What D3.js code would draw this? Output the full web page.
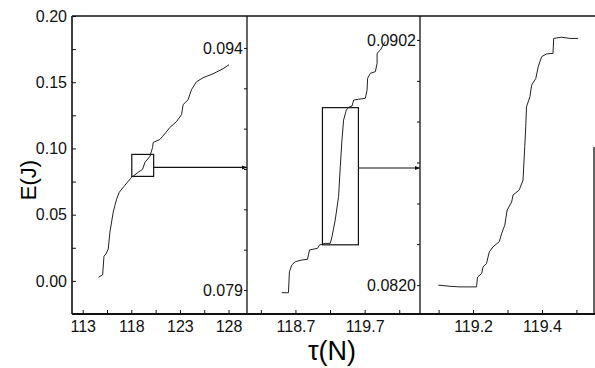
<!doctype html>
<head>
  <script src="https://cdnjs.cloudflare.com/ajax/libs/d3/7.8.5/d3.min.js"></script>
  <style>
    body { margin: 0; background: #fff; }
    svg { display: block; font-family: "Liberation Sans", Arial, sans-serif; }
    .tick text { font-size: 16px; fill: #111; }
    .tick line { stroke: #111; }
  </style>
</head>
<body>
  <svg width="595" height="368"></svg>
  <script type="text/javascript">
    // left panel: full run
    var leftTau = [114.64,115.05,115.19,115.39,115.63,115.80,116.14,116.32,116.49,116.76,117.34,118.03,118.71,119.16,119.40,119.91,120.19,120.25,120.94,121.55,121.96,122.65,123.17,123.33,123.84,124.19,124.71,125.38,126.41,127.44,128.05]
    var leftE = [0.0028,0.0045,0.0188,0.0203,0.0241,0.0368,0.0519,0.0571,0.0617,0.0669,0.0722,0.0782,0.0820,0.0842,0.0895,0.0940,0.1008,0.1045,0.1068,0.1120,0.1158,0.1203,0.1256,0.1331,0.1368,0.1444,0.1504,0.1534,0.1564,0.1602,0.1632]

    // middle panel: zoom of the small box
    var midTau = [118.503,118.599,118.613,118.648,118.696,118.793,118.874,118.888,118.903,119.019,119.048,119.130,119.203,119.228,119.275,119.323,119.348,119.372,119.396,119.435,119.468,119.517,119.541,119.613,119.710,119.735,119.743,119.783,119.855,119.880,119.880,119.928,119.967,120.0]
    var midE = [0.07883,0.07883,0.08013,0.08055,0.08075,0.08086,0.08090,0.08117,0.08148,0.08158,0.08179,0.08189,0.08189,0.08230,0.08334,0.08478,0.08664,0.08829,0.08953,0.09015,0.09032,0.09040,0.09077,0.09082,0.09088,0.09139,0.09212,0.09243,0.09253,0.09305,0.09367,0.09387,0.09418,0.09439]

    // right panel: zoom of the tall box
    var rightTau = [119.099,119.133,119.162,119.210,119.213,119.225,119.229,119.239,119.247,119.258,119.276,119.283,119.292,119.299,119.312,119.316,119.334,119.345,119.350,119.353,119.355,119.365,119.370,119.382,119.389,119.399,119.413,119.432,119.434,119.457,119.481,119.505]
    var rightE = [0.08200,0.08196,0.08194,0.08194,0.08227,0.08239,0.08261,0.08272,0.08311,0.08328,0.08345,0.08373,0.08400,0.08451,0.08478,0.08501,0.08518,0.08551,0.08663,0.08730,0.08796,0.08830,0.08869,0.08891,0.08930,0.08964,0.08973,0.08975,0.09025,0.09029,0.09025,0.09025]

    // ticks
    var leftYTicks = [0,0.025,0.05,0.075,0.10,0.125,0.15,0.175,0.20]
    var leftYLabels = [0,0.05,0.10,0.15,0.20]
    var leftXTicks = [113,115.5,118,120.5,123,125.5,128]
    var leftXLabels = [113,118,123,128]
    var midYTicks = [0.079,0.0815,0.084,0.0865,0.089,0.0915,0.094]
    var midYLabels = [0.079,0.094]
    var midXTicks = [118.2,118.7,119.2,119.7,120.2]
    var midXLabels = [118.7,119.7]
    var rightYTicks = [0.0820,0.08337,0.08473,0.0861,0.08747,0.08883,0.0902]
    var rightYLabels = [0.0820,0.0902]
    var rightXTicks = [119.1,119.2,119.3,119.4,119.5]
    var rightXLabels = [119.2,119.4]

    // zoom boxes [tau0, tau1, E0, E1] and the E level of each arrow
    var leftBox = [118.05,120.3,0.0789,0.0955]
    var midBox = [119.09,119.61,0.0818,0.0903]
    var arrowE = [0.0857,0.08656]

    var plotTop = 16, plotBottom = 314
    var svg = d3.select("svg")

    var xL = d3.scaleLinear().domain([111.9,129.9]).range([72,247])
    var yL = d3.scaleLinear().domain([-0.025,0.20]).range([plotBottom,plotTop])
    var xM = d3.scaleLinear().domain([118.0,120.5]).range([247,420])
    var yM = d3.scaleLinear().domain([0.07745,0.09598]).range([plotBottom+1,plotTop])
    var xR = d3.scaleLinear().domain([119.046,119.551]).range([420,594])
    var yR = d3.scaleLinear().domain([0.0810,0.0910]).range([plotBottom+1,plotTop])

    svg.append("defs").append("marker")
    .attr("id","arr").attr("viewBox","0 0 10 10").attr("refX",10).attr("refY",5)
    .attr("markerWidth",5).attr("markerHeight",5).attr("markerUnits","userSpaceOnUse").attr("orient","auto")
    .append("path").attr("d","M0,1L10,5L0,9Z").attr("fill","#111")

    function fmtLabels(labels, f) {
    return d => labels.some(l => Math.abs(l - d) < 1e-6) ? f(d) : ""
    }

    // bottom axes
    function bottomAxis(x, ticks, labels, f) {
    var g = svg.append("g").attr("transform","translate(0," + plotBottom + ")")
    .call(d3.axisBottom(x).tickValues(ticks).tickSizeInner(-4).tickSizeOuter(0).tickPadding(7).tickFormat(fmtLabels(labels, f)))
    g.select(".domain").remove()
    }
    bottomAxis(xL, leftXTicks, leftXLabels, d3.format("d"))
    bottomAxis(xM, midXTicks, midXLabels, d3.format(".1f"))
    bottomAxis(xR, rightXTicks, rightXLabels, d3.format(".1f"))

    // left y axis
    var gl = svg.append("g").attr("transform","translate(72,0)")
    .call(d3.axisLeft(yL).tickValues(leftYTicks).tickSizeInner(-4).tickSizeOuter(0).tickPadding(5).tickFormat(fmtLabels(leftYLabels, d3.format(".2f"))))
    gl.select(".domain").remove()

    // divider axes: scales of the next panel, labels placed on the left
    var gm = svg.append("g").attr("transform","translate(247,0)")
    .call(d3.axisLeft(yM).tickValues(midYTicks).tickSizeInner(3).tickSizeOuter(0).tickPadding(1).tickFormat(fmtLabels(midYLabels, d3.format(".3f"))))
    gm.select(".domain").remove()
    var gr = svg.append("g").attr("transform","translate(420,0)")
    .call(d3.axisLeft(yR).tickValues(rightYTicks).tickSizeInner(3).tickSizeOuter(0).tickPadding(1).tickFormat(fmtLabels(rightYLabels, d3.format(".4f"))))
    gr.select(".domain").remove()

    // frame
    var frame = svg.append("g").attr("stroke","#111").attr("fill","none")
    frame.append("line").attr("x1",72).attr("x2",595).attr("y1",plotTop).attr("y2",plotTop).attr("stroke-width",1.3)
    frame.append("line").attr("x1",72).attr("x2",595).attr("y1",plotBottom).attr("y2",plotBottom).attr("stroke-width",2)
    frame.append("line").attr("x1",72).attr("x2",72).attr("y1",plotTop).attr("y2",plotBottom).attr("stroke-width",1.6)
    frame.append("line").attr("x1",247).attr("x2",247).attr("y1",plotTop).attr("y2",plotBottom).attr("stroke-width",1.3)
    frame.append("line").attr("x1",420).attr("x2",420).attr("y1",plotTop).attr("y2",plotBottom).attr("stroke-width",1.3)
    frame.append("line").attr("x1",594).attr("x2",594).attr("y1",147).attr("y2",plotBottom).attr("stroke-width",1.3)

    // curves
    function curve(x, y, taus, es) {
    var pts = taus.map((t, i) => [x(t), y(es[i])])
    svg.append("path").attr("d", d3.line()(pts))
    .attr("fill","none").attr("stroke","#222").attr("stroke-width",1)
    }
    curve(xL, yL, leftTau, leftE)
    curve(xM, yM, midTau, midE)
    curve(xR, yR, rightTau, rightE)

    // zoom boxes + arrows
    function box(x, y, b, e, nextX) {
    svg.append("rect").attr("x",x(b[0])).attr("y",y(b[3]))
    .attr("width",x(b[1]) - x(b[0])).attr("height",y(b[2]) - y(b[3]))
    .attr("fill","none").attr("stroke","#111").attr("stroke-width",1.2)
    var ay = y(e)
    svg.append("line").attr("x1",x(b[1])).attr("x2",nextX).attr("y1",ay).attr("y2",ay)
    .attr("stroke","#111").attr("stroke-width",1.2).attr("marker-end","url(#arr)")
    }
    box(xL, yL, leftBox, arrowE[0], 247)
    box(xM, yM, midBox, arrowE[1], 420)

    // axis titles
    svg.append("text").attr("transform","translate(36,180) rotate(-90)")
    .attr("text-anchor","middle").style("font-size","22px").text("E(J)")
    svg.append("text").attr("x",332).attr("y",360)
    .attr("text-anchor","middle").style("font-size","27px").text("τ(N)")
  </script>
</body>
</html>
